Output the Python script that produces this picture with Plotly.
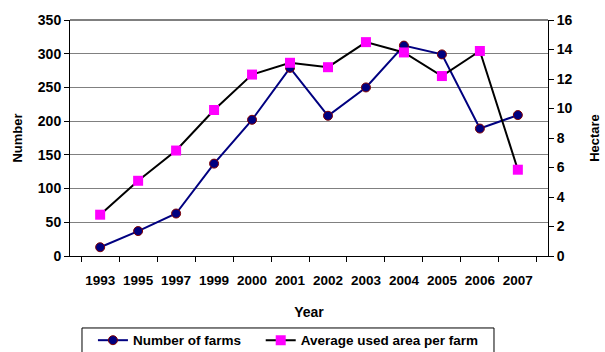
import plotly.graph_objects as go

years = ["1993", "1995", "1997", "1999", "2000", "2001", "2002", "2003", "2004", "2005", "2006", "2007"]
number_of_farms = [13, 37, 63, 137, 202, 279, 208, 250, 312, 299, 189, 209]
avg_area_ha = [2.8, 5.1, 7.15, 9.9, 12.3, 13.1, 12.8, 14.5, 13.8, 12.2, 13.9, 5.85]

FONT = "Liberation Sans, Arial, sans-serif"

fig = go.Figure()
fig.add_trace(go.Scatter(
    x=years, y=number_of_farms, name="Number of farms", mode="lines+markers",
    line=dict(color="#000080", width=2),
    marker=dict(symbol="circle", size=9, color="#000080", line=dict(color="#800000", width=1)),
    yaxis="y", legend="legend",
))
fig.add_trace(go.Scatter(
    x=years, y=avg_area_ha, name="Average used area per farm", mode="lines+markers",
    line=dict(color="#000000", width=2),
    marker=dict(symbol="square", size=10, color="#FF00FF", line=dict(width=0)),
    yaxis="y2", legend="legend2",
))

leg_common = dict(
    orientation="h", yanchor="top", xanchor="left", y=-0.292,
    bgcolor="rgba(0,0,0,0)", borderwidth=0,
    font=dict(family=FONT, size=13.5, weight="bold"), itemwidth=30,
)

fig.update_layout(
    width=605, height=352,
    margin=dict(l=70, r=57, t=20, b=96, autoexpand=False),
    paper_bgcolor="white", plot_bgcolor="white",
    font=dict(family=FONT, size=13, color="black", weight="bold"),
    showlegend=True,
    legend=dict(x=0.048, **leg_common),
    legend2=dict(x=0.399, **leg_common),
    xaxis=dict(
        type="category", title=dict(text="Year", standoff=19, font=dict(size=14, weight="bold")),
        showline=True, linecolor="black", linewidth=1,
        ticks="outside", ticklen=5, tickcolor="black", tickson="boundaries",
        showgrid=False, mirror=False, tickangle=0, automargin=False,
        ticklabelstandoff=12,
        tickfont=dict(size=13.5, weight="bold"),
    ),
    yaxis=dict(
        range=[0, 350], dtick=50, title=dict(text="Number", standoff=12, font=dict(size=13, weight="bold")),
        showline=True, linecolor="black", linewidth=1,
        ticks="outside", ticklen=5, tickcolor="black",
        showgrid=True, gridcolor="#808080", gridwidth=1,
        zeroline=False, automargin=False,
        tickfont=dict(size=14, weight="bold"),
    ),
    yaxis2=dict(
        range=[0, 16], dtick=2, overlaying="y", side="right",
        title=dict(text="Hectare", standoff=18, font=dict(size=13, weight="bold")),
        showline=True, linecolor="black", linewidth=1,
        ticks="outside", ticklen=5, tickcolor="black",
        showgrid=False, zeroline=False, automargin=False,
        tickfont=dict(size=14, weight="bold"),
    ),
    shapes=[
        dict(type="line", xref="paper", yref="paper", x0=0, x1=1, y0=1, y1=1,
             line=dict(color="black", width=1)),
        dict(type="rect", xref="paper", yref="paper", x0=0.0251, x1=0.887, y0=-0.305, y1=-0.45,
             line=dict(color="black", width=1), fillcolor="rgba(0,0,0,0)", layer="above"),
    ],
)

fig.write_html("out.html")
